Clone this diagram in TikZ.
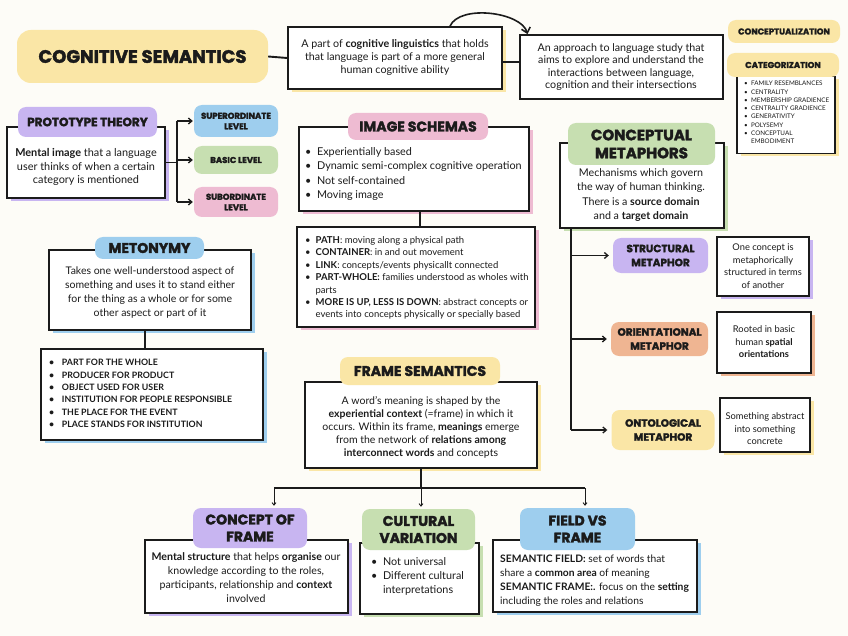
\documentclass[tikz,border=0pt]{standalone}
\usepackage{fontspec}
\setmainfont{Lato}
\newfontfamily\headfont{Poppins}[BoldFeatures={FakeBold=2.2}]
\usepackage{tikz}
\usetikzlibrary{positioning, shadows, arrows.meta, calc}
\definecolor{paper}{HTML}{FDFCF7}
\definecolor{inkc}{HTML}{1B1B1B}
\definecolor{yellowc}{HTML}{FAE6A6}
\definecolor{purplec}{HTML}{C8B5F1}
\definecolor{pinkc}{HTML}{EEBBD2}
\definecolor{bluec}{HTML}{9ECEEE}
\definecolor{greenc}{HTML}{C7DFB1}
\definecolor{orangec}{HTML}{EFB592}
\newcommand{\fsz}[2]{\fontsize{#1}{#2}\selectfont}
\newcommand{\bul}[1][1.1em]{\makebox[#1][l]{\textbullet}}
\newcommand{\nob}[1][1.1em]{\makebox[#1]{}}
\tikzset{
  % white card, black outline
  plaincard/.style={draw=inkc, line width=1.8pt, fill=white, inner sep=0pt},
  % white card with coloured offset shadow
  card/.style={plaincard, general shadow={fill=#1, shadow xshift=3.5pt, shadow yshift=-3pt}},
  % coloured blob = heading
  pill/.style={fill=#1, rounded corners=8pt, inner sep=0pt, align=center, text=inkc,
               font=\headfont\bfseries\fsz{14}{17}},
  txt/.style={align=center, inner sep=0pt, text=inkc},
  conn/.style={draw=inkc, line width=1.9pt},
  arr/.style={conn, line width=1.3pt, -{Straight Barb[length=3.5pt,width=6pt]}, shorten >=1pt},
  arrsmall/.style={draw=inkc, line width=0.9pt, -{Straight Barb[length=2.5pt,width=4pt]}},
}
\begin{document}
\begin{tikzpicture}[x=1pt, y=-1pt]
  % canvas
  \fill[paper] (0,0) rectangle (848,636);
  \useasboundingbox (0,0) rectangle (848,636);

  % cards
  \node[card=yellowc, minimum width=214pt, minimum height=62pt] (boxa) at (395,58) {};
  \node[plaincard, minimum width=203pt, minimum height=64pt] (boxb) at (621.5,67) {};
  \node[card=yellowc, line width=1.4pt, minimum width=98pt, minimum height=77pt] (catlist) at (786,115) {};
  \node[card=purplec, minimum width=158pt, minimum height=71pt] (protobox) at (86,162.5) {};
  \node[card=pinkc, minimum width=230pt, minimum height=84pt] (schembox) at (414,169) {};
  \node[card=pinkc, minimum width=238pt, minimum height=100pt] (schemlist) at (416,277) {};
  \node[card=greenc, minimum width=164pt, minimum height=85pt] (metabox) at (642,185.5) {};
  \node[card=purplec, minimum width=92pt, minimum height=59pt] (onebox) at (763,266.5) {};
  \node[card=orangec, minimum width=94pt, minimum height=61pt] (rootbox) at (764,342.5) {};
  \node[card=yellowc, minimum width=90pt, minimum height=54pt] (somebox) at (765,425) {};
  \node[card=bluec, minimum width=202pt, minimum height=80pt] (metobox) at (150,290) {};
  \node[card=bluec, minimum width=222pt, minimum height=91pt] (metolist) at (152,394.5) {};
  \node[card=yellowc, minimum width=232pt, minimum height=86pt] (framebox) at (421,425) {};
  \node[card=purplec, minimum width=203pt, minimum height=73pt] (conceptbox) at (246.5,576.5) {};
  \node[card=greenc, minimum width=119pt, minimum height=71pt] (culturalbox) at (419.5,578.5) {};
  \node[card=bluec, minimum width=204pt, minimum height=72pt] (fieldbox) at (595,576) {};

  % card texts
  \node[txt, font=\fsz{10.7}{12.8}] (boxatxt) at (395,57.5)
    {A part of \textbf{cognitive linguistics} that holds\\that language is part of a more general\\human cognitive ability};
  \node[txt, font=\fsz{10.7}{12.5}] (boxbtxt) at (621,67)
    {An approach to language study that\\aims to explore and understand the\\interactions between language,\\cognition and their intersections};
  \node[txt, align=left, anchor=north west, font=\fsz{6.3}{8.3}] (catlisttxt) at (744,81)
    {\bul FAMILY RESEMBLANCES\\\bul CENTRALITY\\\bul MEMBERSHIP GRADIENCE\\\bul CENTRALITY GRADIENCE\\
     \bul GENERATIVITY\\\bul POLYSEMY\\\bul CONCEPTUAL\\\nob EMBODIMENT};
  \node[txt, font=\fsz{10.9}{13.5}] (protoboxtxt) at (86,167)
    {\textbf{Mental image} that a language\\user thinks of when a certain\\category is mentioned};
  \node[txt, align=left, anchor=west, font=\fsz{10.8}{14.3}] (schemboxtxt) at (305,174)
    {\bul Experientially based\\\bul Dynamic semi-complex cognitive operation\\\bul Not self-contained\\\bul Moving image};
  \node[txt, align=left, anchor=west, font=\fsz{9.5}{12.4}] (schemlisttxt) at (305,278)
    {\bul\textbf{PATH}: moving along a physical path\\
     \bul\textbf{CONTAINER}: in and out movement\\
     \bul\textbf{LINK}: concepts/events physicallt connected\\
     \bul\textbf{PART-WHOLE:} families understood as wholes with\\
     \nob parts\\
     \bul\textbf{MORE IS UP, LESS IS DOWN}: abstract concepts or\\
     \nob events into concepts physically or specially based};
  \node[txt, font=\fsz{10.7}{14.3}] (metaboxtxt) at (641,195)
    {Mechanisms which govern\\the way of human thinking.\\There is a \textbf{source domain}\\and a \textbf{target domain}};
  \node[txt, font=\fsz{9.3}{12.5}] (oneboxtxt) at (763,266)
    {One concept is\\metaphorically\\structured in terms\\of another};
  \node[txt, font=\fsz{9.3}{12.5}] (rootboxtxt) at (764,342)
    {Rooted in basic\\human \textbf{spatial}\\\textbf{orientations}};
  \node[txt, font=\fsz{9.3}{12.5}] (someboxtxt) at (765,429)
    {Something abstract\\into something\\concrete};
  \node[txt, font=\fsz{10.5}{14}] (metoboxtxt) at (150,293)
    {Takes one well-understood aspect of\\something and uses it to stand either\\for the thing as a whole or for some\\other aspect or part of it};
  \node[txt, align=left, anchor=west, font=\bfseries\fsz{8.8}{12.3}] (metolisttxt) at (49,393.5)
    {\bul[1.45em]PART FOR THE WHOLE\\\bul[1.45em]PRODUCER FOR PRODUCT\\\bul[1.45em]OBJECT USED FOR USER\\
     \bul[1.45em]INSTITUTION FOR PEOPLE RESPONSIBLE\\\bul[1.45em]THE PLACE FOR THE EVENT\\\bul[1.45em]PLACE STANDS FOR INSTITUTION};
  \node[txt, font=\fsz{10.5}{13}] (frameboxtxt) at (421,427)
    {A word's meaning is shaped by the\\\textbf{experiential context} (=frame) in which it\\occurs. Within its frame, \textbf{meanings} emerge\\
     from the network of \textbf{relations among}\\\textbf{interconnect words} and concepts};
  \node[txt, font=\fsz{10.6}{14}] (conceptboxtxt) at (246,578)
    {\textbf{Mental structure} that helps \textbf{organise} our\\knowledge according to the roles,\\participants, relationship and \textbf{context}\\involved};
  \node[txt, align=left, anchor=west, font=\fsz{10.8}{14}] (culturaltxt) at (371,576)
    {\bul Not universal\\\bul Different cultural\\\nob interpretations};
  \node[txt, align=left, anchor=west, font=\fsz{10.3}{14}] (fieldtxt) at (500,581)
    {\textbf{SEMANTIC FIELD:} set of words that\\share a \textbf{common area} of meaning\\
     \textbf{SEMANTIC FRAME:.} focus on the \textbf{setting}\\including the roles and relations};

  % headings
  \node[pill=yellowc, rounded corners=14pt, minimum width=251pt, minimum height=53pt,
        font=\headfont\bfseries\fsz{18}{20}] (title) at (142.5,56.5) {COGNITIVE SEMANTICS};
  \node[pill=yellowc, minimum width=112pt, minimum height=23pt, font=\headfont\bfseries\fsz{8.5}{10}] (concpill) at (784,31.5) {CONCEPTUALIZATION};
  \node[pill=yellowc, minimum width=112pt, minimum height=24pt, font=\headfont\bfseries\fsz{8.5}{10}] (catpill) at (783,65) {CATEGORIZATION};
  \node[pill=purplec, minimum width=139pt, minimum height=30pt, font=\headfont\bfseries\fsz{12}{14}] (protopill) at (87.5,122) {PROTOTYPE THEORY};
  \node[pill=bluec, minimum width=84pt, minimum height=32pt, font=\headfont\bfseries\fsz{8.5}{10.5}] (superlvl) at (236,121) {SUPERORDINATE\\LEVEL};
  \node[pill=greenc, minimum width=84pt, minimum height=28pt, font=\headfont\bfseries\fsz{8.5}{10.5}] (basiclvl) at (236,160) {BASIC LEVEL};
  \node[pill=pinkc, minimum width=84pt, minimum height=30pt, font=\headfont\bfseries\fsz{8.5}{10.5}] (sublvl) at (236,202) {SUBORDINATE\\LEVEL};
  \node[pill=pinkc, minimum width=140pt, minimum height=27pt] (schempill) at (418,126.5) {IMAGE SCHEMAS};
  \node[pill=greenc, minimum width=147pt, minimum height=42pt, font=\headfont\bfseries\fsz{15}{18}] (metapill) at (641.5,144) {CONCEPTUAL\\METAPHORS};
  \node[pill=purplec, minimum width=95pt, minimum height=35pt, font=\headfont\bfseries\fsz{10.5}{14}] (structmeta) at (660.5,255.5) {STRUCTURAL\\METAPHOR};
  \node[pill=orangec, minimum width=97pt, minimum height=34pt, font=\headfont\bfseries\fsz{10.5}{14}] (orientmeta) at (659.5,339) {ORIENTATIONAL\\METAPHOR};
  \node[pill=yellowc, minimum width=103pt, minimum height=40pt, font=\headfont\bfseries\fsz{10.5}{14}] (ontometa) at (663,430) {ONTOLOGICAL\\METAPHOR};
  \node[pill=bluec, minimum width=109pt, minimum height=22pt] (metopill) at (149.5,248) {METONYMY};
  \node[pill=yellowc, minimum width=160pt, minimum height=28pt] (framepill) at (420,371) {FRAME SEMANTICS};
  \node[pill=purplec, minimum width=114pt, minimum height=40pt] (conceptpill) at (250,528) {CONCEPT OF\\FRAME};
  \node[pill=greenc, minimum width=113pt, minimum height=41pt] (culturalpill) at (418.5,529.5) {CULTURAL\\VARIATION};
  \node[pill=bluec, minimum width=115pt, minimum height=42pt] (fieldpill) at (577.5,529) {FIELD VS\\FRAME};

  % connectors: top row
  \draw[conn] (title.east) -- (boxa.west);
  \draw[conn] ([yshift=-4pt]boxa.east) -- ([yshift=5pt]boxb.west);
  \draw[conn, line width=1.6pt, -{Straight Barb[length=5pt,width=9pt]}]
    ([xshift=55pt]boxa.north) .. controls +(10,-22) and +(-6,-22) .. ([xshift=-94pt]boxb.north);

  % prototype levels
  \coordinate (pjoint) at ([xshift=11pt]protobox.east);
  \draw[conn, line width=1.3pt] (protobox.east) -- (pjoint);
  \draw[conn, line width=1.3pt] (pjoint |- superlvl.west) -- (pjoint |- sublvl.west);
  \foreach \lvl in {superlvl, basiclvl, sublvl}
    \draw[arr] (pjoint |- \lvl.west) -- (\lvl.west);

  % image schemas, metonymy
  \draw[conn] ([xshift=6pt]schembox.south) -- ([xshift=6pt]schembox.south |- schemlist.north);
  \draw[conn] ([xshift=-5pt]metobox.south) -- ([xshift=-5pt]metobox.south |- metolist.north);

  % metaphor types
  \coordinate (mjoint) at ([xshift=12pt]metabox.south west);
  \draw[conn] (mjoint) -- (mjoint |- ontometa.west);
  \foreach \kind in {structmeta, orientmeta, ontometa}
    \draw[arr] (mjoint |- \kind.west) -- ([xshift=-3pt]\kind.west);

  % frame semantics branches
  \coordinate (fjoint) at ([yshift=-20pt]framebox.south);
  \coordinate (fleft) at (274,488);
  \coordinate (fright) at (585,488);
  \draw[conn] (framebox.south) -- (fjoint);
  \draw[conn] (fleft) -- (fright);
  \draw[arrsmall] (fleft) -- ([yshift=2pt]fleft |- conceptpill.north);
  \draw[arrsmall] (fjoint) -- ([yshift=2pt]fjoint |- culturalpill.north);
  \draw[arrsmall] (fright) -- ([yshift=2pt]fright |- fieldpill.north);
\end{tikzpicture}
\end{document}
